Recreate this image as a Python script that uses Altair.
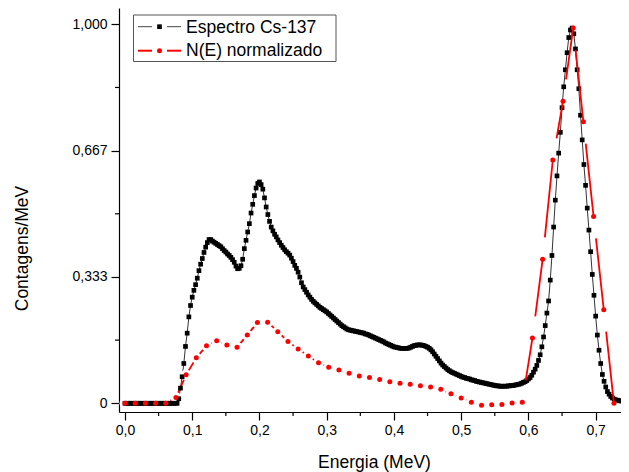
import altair as alt
import pandas as pd

FONT = "Liberation Sans"

# Espectro Cs-137: one value per channel, energy calibration 0.0025 MeV/channel
GANHO_PRETO = 0.0025
contagens = [
    0, 0, 0, 0, 0, 0, 0, 0, 0, 0,
    0, 0, 0, 0, 0, 0, 0, 0, 0, 0,
    0, 0, 0, 0, 0, 0, 0, 0, 0, 0,
    0, 0, 0.012, 0.040, 0.070, 0.105, 0.150, 0.185, 0.228, 0.258,
    0.280, 0.298, 0.313, 0.330, 0.350, 0.367, 0.382, 0.398, 0.412, 0.424,
    0.432, 0.432, 0.428, 0.425, 0.422, 0.419, 0.416, 0.413, 0.408, 0.403,
    0.399, 0.394, 0.390, 0.385, 0.379, 0.372, 0.362, 0.355, 0.356, 0.363,
    0.380, 0.408, 0.430, 0.452, 0.474, 0.502, 0.525, 0.548, 0.568, 0.580,
    0.584, 0.577, 0.565, 0.542, 0.518, 0.498, 0.480, 0.465, 0.455, 0.446,
    0.439, 0.431, 0.424, 0.417, 0.411, 0.405, 0.400, 0.396, 0.391, 0.383,
    0.374, 0.364, 0.356, 0.346, 0.333, 0.318, 0.307, 0.300, 0.293, 0.286,
    0.280, 0.274, 0.269, 0.265, 0.261, 0.257, 0.253, 0.250, 0.247, 0.244,
    0.241, 0.237, 0.233, 0.229, 0.225, 0.221, 0.217, 0.213, 0.209, 0.205,
    0.202, 0.199, 0.196, 0.194, 0.193, 0.192, 0.191, 0.190, 0.189, 0.188,
    0.187, 0.186, 0.185, 0.183, 0.182, 0.180, 0.178, 0.176, 0.174, 0.172,
    0.170, 0.168, 0.166, 0.164, 0.162, 0.159, 0.157, 0.155, 0.153, 0.151,
    0.149, 0.148, 0.147, 0.146, 0.145, 0.145, 0.145, 0.145, 0.145, 0.146,
    0.148, 0.150, 0.152, 0.153, 0.154, 0.154, 0.154, 0.153, 0.152, 0.150,
    0.148, 0.145, 0.141, 0.136, 0.130, 0.124, 0.118, 0.112, 0.106, 0.101,
    0.097, 0.093, 0.089, 0.086, 0.083, 0.081, 0.079, 0.077, 0.075, 0.073,
    0.071, 0.069, 0.068, 0.066, 0.065, 0.064, 0.062, 0.061, 0.060, 0.058,
    0.057, 0.056, 0.055, 0.054, 0.053, 0.052, 0.051, 0.050, 0.049, 0.048,
    0.047, 0.046, 0.046, 0.045, 0.045, 0.045, 0.045, 0.045, 0.046, 0.046,
    0.047, 0.047, 0.048, 0.049, 0.050, 0.051, 0.053, 0.055, 0.057, 0.060,
    0.064, 0.068, 0.074, 0.082, 0.090, 0.100, 0.113, 0.128, 0.149, 0.175,
    0.205, 0.238, 0.270, 0.325, 0.390, 0.465, 0.536, 0.600, 0.660, 0.715,
    0.780, 0.835, 0.880, 0.925, 0.965, 0.985, 0.990, 0.975, 0.935, 0.880,
    0.830, 0.760, 0.695, 0.630, 0.575, 0.515, 0.457, 0.400, 0.340, 0.285,
    0.230, 0.180, 0.140, 0.105, 0.076, 0.058, 0.043, 0.031, 0.024, 0.018,
    0.014, 0.011, 0.009, 0.008, 0.007, 0.006, 0.006, 0.005, 0.005, 0.005,
    0.004,
]

# N(E) normalizado: energy bins of 0.01515 MeV
GANHO_VERMELHO = 0.01515
n_e = [
    0.0, 0.0, 0.0, 0.0, 0.0, 0.015, 0.075, 0.120, 0.152, 0.165,
    0.154, 0.148, 0.180, 0.213, 0.214, 0.189, 0.163, 0.143, 0.125, 0.107,
    0.095, 0.088, 0.079, 0.072, 0.068, 0.063, 0.057, 0.053, 0.050, 0.046,
    0.043, 0.037, 0.025, 0.014, 0.003, -0.005, -0.004, -0.003, 0.001, 0.003,
    0.172, 0.380, 0.642, 0.797, 0.990, 0.743, 0.493, 0.247, 0.000,
]
INICIO_PICO = 39  # first red point of the photopeak segments

x_ticks = [0.0, 0.1, 0.2, 0.3, 0.4, 0.5, 0.6, 0.7]
x_minor = [0.05, 0.15, 0.25, 0.35, 0.45, 0.55, 0.65]
y_ticks = [0.0, 1 / 3, 2 / 3, 1.0]
y_minor = [1 / 6, 0.5, 5 / 6]
legend_labels = ["Espectro Cs-137", "N(E) normalizado"]

preto = pd.DataFrame({"x": [i * GANHO_PRETO for i in range(len(contagens))], "y": contagens})
verm = pd.DataFrame({"x": [k * GANHO_VERMELHO for k in range(len(n_e))], "y": n_e})
verm_baixo = verm.iloc[: INICIO_PICO + 1]
seg_rows = []
for j in range(INICIO_PICO, len(n_e) - 1):
    seg_rows.append({"seg": j, "o": 0, "x": verm.x[j], "y": verm.y[j]})
    seg_rows.append({"seg": j, "o": 1, "x": verm.x[j + 1], "y": verm.y[j + 1]})
segs = pd.DataFrame(seg_rows)

W, H = 502, 404
xs = alt.Scale(domain=[-0.0089, 0.7377], nice=False, zero=False)
ys = alt.Scale(domain=[-0.023, 1.043], nice=False, zero=False)

x_axis = alt.Axis(
    values=x_ticks, labelExpr="replace(format(datum.value, '.1f'), '.', ',')",
    title="Energia (MeV)", titleX=255, titleY=55, titleAlign="center",
    titleBaseline="alphabetic", labelPadding=3,
)
y_axis = alt.Axis(
    values=y_ticks,
    labelExpr="datum.value < 0.001 ? '0' : replace(format(datum.value, '.3f'), '.', ',')",
    title="Contagens/MeV", titleX=-97, titleY=240, titleAngle=270,
    titleAlign="center", titleBaseline="middle", labelPadding=4,
)

X = alt.X("x:Q", scale=xs, axis=x_axis)
Y = alt.Y("y:Q", scale=ys, axis=y_axis)

red_low = alt.Chart(verm_baixo).mark_line(color="#ff0000", strokeWidth=1.8, clip=True).encode(x=X, y=Y)
halos = alt.Chart(verm_baixo).mark_circle(color="white", size=120, opacity=1, clip=True).encode(x=X, y=Y)
black_line = alt.Chart(preto).mark_line(color="#333333", strokeWidth=1, clip=True).encode(x=X, y=Y)
black_pts = alt.Chart(preto).mark_square(color="black", size=22, opacity=1, clip=True).encode(x=X, y=Y)
red_peak = alt.Chart(segs).mark_line(
    color="#ff0000", strokeWidth=1.8, strokeDash=[0, 22, 1000, 0], clip=True
).encode(x=X, y=Y, detail="seg:N", order="o:Q")
red_pts = alt.Chart(verm).mark_circle(color="#ff0000", size=25, opacity=1, clip=True).encode(x=X, y=Y)

minor_x = alt.Chart(pd.DataFrame({"x": x_minor})).mark_rule(color="black", strokeWidth=1.2).encode(
    x=X, y=alt.value(H), y2=alt.value(H + 4))
minor_y = alt.Chart(pd.DataFrame({"y": y_minor})).mark_rule(color="black", strokeWidth=1.2).encode(
    y=Y, x=alt.value(-4), x2=alt.value(0))

one = pd.DataFrame({"a": [0]})
leg_box = alt.Chart(one).mark_rect(fill="white", stroke="#555555", strokeWidth=1).encode(
    x=alt.value(14.5), x2=alt.value(217), y=alt.value(7), y2=alt.value(53.5))
leg_parts = []
for (xa, xb) in [(19, 33), (48, 62)]:
    leg_parts.append(alt.Chart(one).mark_rule(color="#444444", strokeWidth=1).encode(
        x=alt.value(xa), x2=alt.value(xb), y=alt.value(18.7)))
    leg_parts.append(alt.Chart(one).mark_rule(color="#ff0000", strokeWidth=2).encode(
        x=alt.value(xa), x2=alt.value(xb), y=alt.value(42.7)))
leg_parts.append(alt.Chart(one).mark_square(color="black", size=22, opacity=1).encode(
    x=alt.value(40.5), y=alt.value(18.7)))
leg_parts.append(alt.Chart(one).mark_circle(color="#ff0000", size=25, opacity=1).encode(
    x=alt.value(40.5), y=alt.value(42.7)))
leg_parts.append(alt.Chart(one).mark_text(
    text=legend_labels[0], font=FONT, fontSize=17.5, align="left", baseline="alphabetic", color="black"
).encode(x=alt.value(67), y=alt.value(24.5)))
leg_parts.append(alt.Chart(one).mark_text(
    text=legend_labels[1], font=FONT, fontSize=17.5, align="left", baseline="alphabetic", color="black"
).encode(x=alt.value(67), y=alt.value(47.5)))

chart = alt.layer(
    black_line, red_low, halos, black_pts, red_peak, red_pts, minor_x, minor_y, leg_box, *leg_parts
).properties(
    width=W, height=H,
    autosize=alt.AutoSizeParams(type="none"),
    padding={"left": 111, "top": 0, "right": 0, "bottom": 60},
).configure_view(stroke=None).configure_axis(
    grid=False, domainColor="black", domainWidth=1.2, tickColor="black", tickWidth=1.2,
    tickSize=8, labelFont=FONT, labelFontSize=14, labelColor="black",
    titleFont=FONT, titleFontSize=17.5, titleFontWeight="normal", titleColor="black",
)

chart.save("out.html", embed_options={"renderer": "svg", "actions": False})
